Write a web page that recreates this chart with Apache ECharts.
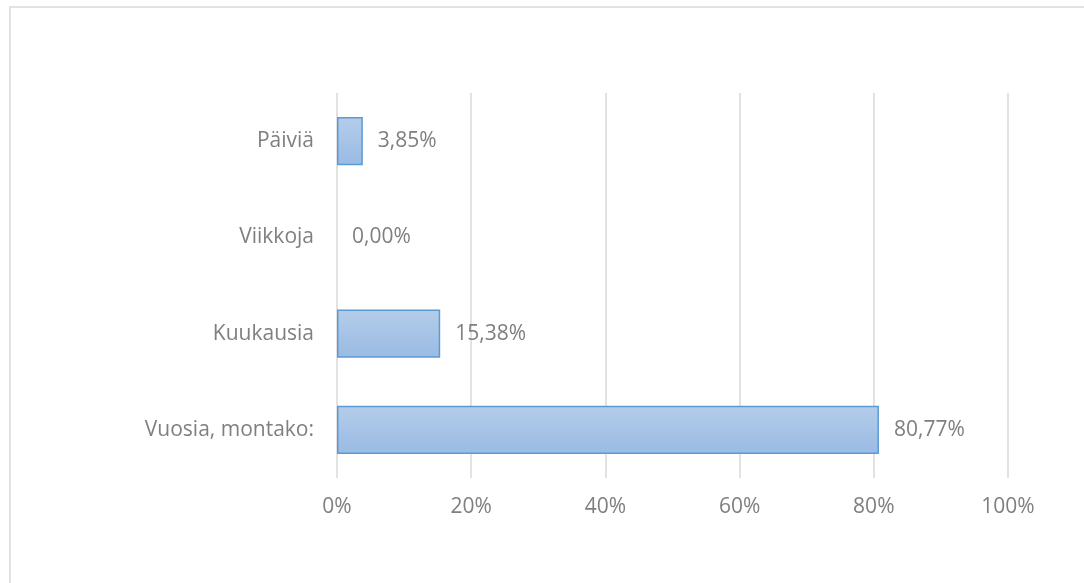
<!DOCTYPE html>
<html>
<head>
<meta charset="utf-8">
<script src="https://cdn.jsdelivr.net/npm/echarts@6/dist/echarts.min.js"></script>
<style>
  html, body { margin: 0; padding: 0; background: #fff; }
  #chart { width: 1084px; height: 583px; }
</style>
</head>
<body>
<div id="chart"></div>
<script>
// kategoriat ylhäältä alas
const categories = ['Päiviä', 'Viikkoja', 'Kuukausia', 'Vuosia, montako:']
const shares = [3.85, 0.00, 15.38, 80.77]
const xTicks = [0, 20, 40, 60, 80, 100]

const chart = echarts.init(document.getElementById('chart'))
const fontFamily = '"Open Sans", "Liberation Sans", sans-serif'
const fontSize = 21

const option = {
  animation: false,
  backgroundColor: '#fff',
  graphic: [{
    type: 'rect',
    shape: { x: 10, y: 7, width: 1200, height: 700 },
    style: { fill: 'none', stroke: '#d9d9d9', lineWidth: 1.5 },
    silent: true
  }],
  grid: { left: 337, right: 76, top: 93, bottom: 105 },
  xAxis: {
    type: 'value',
    min: xTicks[0],
    max: xTicks[xTicks.length - 1],
    interval: 20,
    axisLine: { show: false },
    axisTick: { show: false },
    splitLine: { lineStyle: { color: '#d9d9d9', width: 1.5 } },
    axisLabel: {
      margin: 19,
      color: '#7f7f7f',
      fontSize: fontSize,
      fontFamily: fontFamily,
      formatter: v => v + '%'
    }
  },
  yAxis: {
    type: 'category',
    inverse: true,
    data: categories,
    axisLine: { show: false },
    axisTick: { show: false },
    axisLabel: {
      margin: 23,
      color: '#7f7f7f',
      fontSize: fontSize,
      fontFamily: fontFamily
    }
  },
  series: [{
    type: 'bar',
    // nollapalkille ei reunaviivaa
    data: shares.map(v => v === 0 ? { value: v, itemStyle: { borderWidth: 0 } } : v),
    barWidth: '50%',
    itemStyle: {
      color: new echarts.graphic.LinearGradient(0, 0, 0, 1, [
        { offset: 0, color: '#b4cce9' },
        { offset: 1, color: '#9abbe4' }
      ]),
      borderColor: '#5b9bd5',
      borderWidth: 1.5
    },
    label: {
      show: true,
      position: 'right',
      distance: 15,
      color: '#7f7f7f',
      fontSize: fontSize,
      fontFamily: fontFamily,
      formatter: p => p.value.toFixed(2).replace('.', ',') + '%'
    }
  }]
}
chart.setOption(option)
</script>
</body>
</html>
